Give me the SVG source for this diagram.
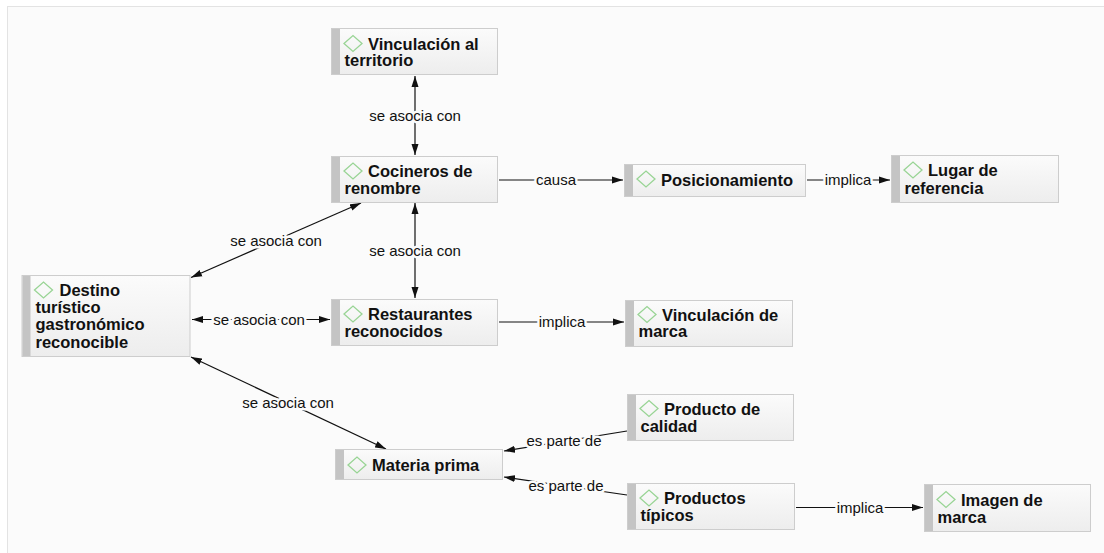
<svg xmlns="http://www.w3.org/2000/svg" width="1104" height="553" viewBox="0 0 1104 553">
<style>
.box{fill:url(#g);stroke:#cdcdcd;stroke-width:1}
.bar{fill:#c4c4c4}
.dia{fill:none;stroke:#98d494;stroke-width:1.3}
.t{font-family:"Liberation Sans",Arial,sans-serif;font-weight:bold;font-size:16.5px;fill:#111}
.c{stroke:#111;stroke-width:1.2;fill:none}
.l{font-family:"Liberation Sans",Arial,sans-serif;font-size:15px;fill:#111;text-anchor:middle;stroke:#fbfbfb;stroke-width:5;paint-order:stroke;stroke-linejoin:round}
</style>
<defs>
<linearGradient id="g" x1="0" y1="0" x2="0" y2="1"><stop offset="0" stop-color="#fbfbfb"/><stop offset="1" stop-color="#ededed"/></linearGradient>
<marker id="a" markerUnits="userSpaceOnUse" markerWidth="11" markerHeight="8" refX="11" refY="4" orient="auto-start-reverse"><path d="M0,0.5 L11,4 L0,7.5 z" fill="#111"/></marker>
</defs>
<rect x="7.5" y="6.5" width="1200" height="600" fill="#fbfbfb" stroke="#e3e3e3"/>
<g id="connectors">
<line class="c" x1="415" y1="76" x2="415" y2="155" marker-start="url(#a)" marker-end="url(#a)"/>
<text class="l" x="415" y="121">se asocia con</text>
<line class="c" x1="415" y1="203" x2="415" y2="298" marker-start="url(#a)" marker-end="url(#a)"/>
<text class="l" x="415" y="256">se asocia con</text>
<line class="c" x1="499" y1="180" x2="623" y2="180" marker-end="url(#a)"/>
<text class="l" x="556" y="185">causa</text>
<line class="c" x1="807" y1="180" x2="890" y2="180" marker-end="url(#a)"/>
<text class="l" x="848" y="185">implica</text>
<line class="c" x1="499" y1="322" x2="624" y2="322" marker-end="url(#a)"/>
<text class="l" x="562" y="327">implica</text>
<line class="c" x1="192" y1="319.5" x2="330" y2="319.5" marker-start="url(#a)" marker-end="url(#a)"/>
<text class="l" x="259" y="324.5">se asocia con</text>
<line class="c" x1="191" y1="277.5" x2="361" y2="203" marker-start="url(#a)" marker-end="url(#a)"/>
<text class="l" x="276" y="246">se asocia con</text>
<line class="c" x1="191" y1="357" x2="386" y2="449" marker-start="url(#a)" marker-end="url(#a)"/>
<text class="l" x="288" y="408">se asocia con</text>
<line class="c" x1="627" y1="431" x2="504" y2="451" marker-end="url(#a)"/>
<text class="l" x="564" y="446">es parte de</text>
<line class="c" x1="627" y1="495" x2="504" y2="477" marker-end="url(#a)"/>
<text class="l" x="566" y="491">es parte de</text>
<line class="c" x1="796" y1="507.5" x2="923" y2="507.5" marker-end="url(#a)"/>
<text class="l" x="860" y="512.5">implica</text>
</g>
<g id="n1"><rect class="box" x="331.5" y="28.5" width="166" height="46"/><rect class="bar" x="332" y="29" width="8" height="45"/><path class="dia" d="M344,43.5 L353,35.5 L362,43.5 L353,51.5 Z"/><text class="t" x="368" y="49.5">Vinculación al</text><text class="t" x="344.5" y="66">territorio</text></g>
<g id="n2"><rect class="box" x="331.5" y="156.5" width="166" height="46"/><rect class="bar" x="332" y="157" width="8" height="45"/><path class="dia" d="M344,171 L353,163 L362,171 L353,179 Z"/><text class="t" x="368" y="177">Cocineros de</text><text class="t" x="344.5" y="193.5">renombre</text></g>
<g id="n3"><rect class="box" x="624.5" y="164.5" width="181" height="32"/><rect class="bar" x="625" y="165" width="8" height="31"/><path class="dia" d="M637,179 L646,171 L655,179 L646,187 Z"/><text class="t" x="661" y="185.5">Posicionamiento</text></g>
<g id="n4"><rect class="box" x="891.5" y="155.5" width="167" height="47"/><rect class="bar" x="892" y="156" width="8" height="46"/><path class="dia" d="M904,170 L913,162 L922,170 L913,178 Z"/><text class="t" x="928" y="176">Lugar de</text><text class="t" x="904.5" y="193.5">referencia</text></g>
<g id="n5"><rect class="box" x="331.5" y="299.5" width="166" height="46"/><rect class="bar" x="332" y="300" width="8" height="45"/><path class="dia" d="M344,314 L353,306 L362,314 L353,322 Z"/><text class="t" x="368" y="320">Restaurantes</text><text class="t" x="344.5" y="337">reconocidos</text></g>
<g id="n6"><rect class="box" x="625.5" y="300.5" width="167" height="46"/><rect class="bar" x="626" y="301" width="8" height="45"/><path class="dia" d="M638,314.5 L647,306.5 L656,314.5 L647,322.5 Z"/><text class="t" x="662" y="320.5">Vinculación de</text><text class="t" x="638.5" y="337">marca</text></g>
<g id="n7"><rect class="box" x="22" y="275.5" width="168" height="81"/><rect class="bar" x="22.5" y="276" width="8" height="80"/><path class="dia" d="M34.5,290 L43.5,282 L52.5,290 L43.5,298 Z"/><text class="t" x="59.5" y="296">Destino</text><text class="t" x="35.5" y="313.2">turístico</text><text class="t" x="35.5" y="330.4">gastronómico</text><text class="t" x="35.5" y="347.6">reconocible</text></g>
<g id="n8"><rect class="box" x="335.5" y="449.5" width="167" height="30"/><rect class="bar" x="336" y="450" width="8" height="29"/><path class="dia" d="M348,465 L357,457 L366,465 L357,473 Z"/><text class="t" x="372" y="471">Materia prima</text></g>
<g id="n9"><rect class="box" x="627.5" y="394.5" width="166" height="46"/><rect class="bar" x="628" y="395" width="8" height="45"/><path class="dia" d="M640,408.5 L649,400.5 L658,408.5 L649,416.5 Z"/><text class="t" x="664" y="414.5">Producto de</text><text class="t" x="640.5" y="431.5">calidad</text></g>
<g id="n10"><rect class="box" x="627.5" y="483.5" width="167" height="46"/><rect class="bar" x="628" y="484" width="8" height="45"/><path class="dia" d="M640,498 L649,490 L658,498 L649,506 Z"/><text class="t" x="664" y="504">Productos</text><text class="t" x="640.5" y="521">típicos</text></g>
<g id="n11"><rect class="box" x="924.5" y="484.5" width="166" height="47"/><rect class="bar" x="925" y="485" width="8" height="46"/><path class="dia" d="M937,499.5 L946,491.5 L955,499.5 L946,507.5 Z"/><text class="t" x="961" y="505.5">Imagen de</text><text class="t" x="937.5" y="522.5">marca</text></g>
</svg>
